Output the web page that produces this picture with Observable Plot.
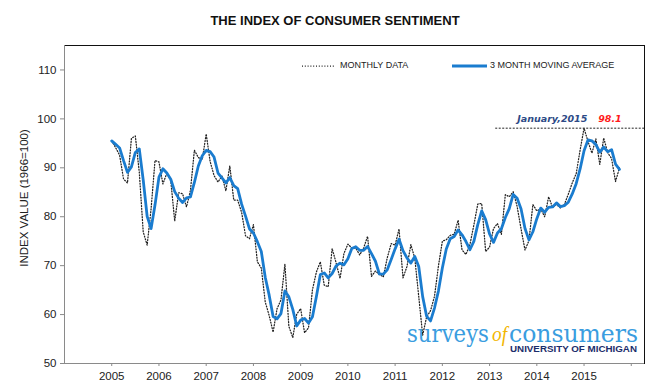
<!DOCTYPE html>
<html><head><meta charset="utf-8">
<script src="https://cdn.jsdelivr.net/npm/d3@7"></script>
<script src="https://cdn.jsdelivr.net/npm/@observablehq/plot@0.6"></script>
<style>
body{margin:0;background:#fff;font-family:"Liberation Sans",Arial,sans-serif;}
#title{height:36px;width:670px;text-align:center;font-weight:bold;font-size:13px;line-height:41px;color:#111;}
#chart svg{display:block;}
</style></head><body>
<div id="title">THE INDEX OF CONSUMER SENTIMENT</div>
<div id="chart"></div>
<script>
// Monthly Index of Consumer Sentiment (1966=100), Jan of each year first
const startYear = 2005;
const v2005 = [95.5, 94.1, 92.6, 87.7, 86.9, 96.0, 96.5, 89.1, 76.9, 74.2, 81.6, 91.5];
const v2006 = [91.2, 86.7, 88.9, 87.4, 79.1, 84.9, 84.7, 82.0, 85.4, 93.6, 92.1, 91.7];
const v2007 = [96.9, 91.3, 88.4, 87.1, 88.3, 85.3, 90.4, 83.4, 83.4, 80.9, 76.1, 75.5];
const v2008 = [78.4, 70.8, 69.5, 62.6, 59.8, 56.4, 61.2, 63.0, 70.3, 57.6, 55.3, 60.1];
const v2009 = [61.2, 56.3, 57.3, 65.1, 68.7, 70.8, 66.0, 65.7, 73.5, 70.6, 67.4, 72.5];
const v2010 = [74.4, 73.6, 73.6, 72.2, 73.6, 76.0, 67.8, 68.9, 68.2, 67.7, 71.6, 74.5];
const v2011 = [74.2, 77.5, 67.5, 69.8, 74.3, 71.5, 63.7, 55.8, 59.5, 60.8, 63.7, 69.9];
const v2012 = [75.0, 75.3, 76.2, 76.4, 79.3, 73.2, 72.3, 74.3, 78.3, 82.6, 82.7, 72.9];
const v2013 = [73.8, 77.6, 78.6, 76.4, 84.5, 84.1, 85.1, 82.1, 77.5, 73.2, 75.1, 82.5];
const v2014 = [81.2, 81.6, 80.0, 84.1, 81.9, 82.5, 81.8, 82.5, 84.6, 86.9, 88.8, 93.6];
const v2015 = [98.1, 95.4, 93.0, 95.9, 90.7, 96.1, 93.1, 91.9, 87.2, 90.0];

const yTicks = [50, 60, 70, 80, 90, 100, 110];
const xTicks = [2005, 2006, 2007, 2008, 2009, 2010, 2011, 2012, 2013, 2014, 2015, 2016];
const xTickLabels = ["2005","2006","2007","2008","2009","2010","2011","2012","2013","2014","2015",""];

const annotationLabel = "January,2015";
const annotationValue = 98.1;
const annotationFrom = 2013.13;

const seriesNames = ["MONTHLY DATA", "3 MONTH MOVING AVERAGE"];
const yLabel = "INDEX VALUE (1966=100)";

const xDomain = [2004, 2016.28];
const yDomain = [50, 115];

const data = [];
[v2005, v2006, v2007, v2008, v2009, v2010, v2011, v2012, v2013, v2014, v2015].forEach((arr, i) =>
  arr.forEach((v, m) => data.push({t: startYear + i + m / 12, v})));

const blue = "#1a7ccf";
const dots = "1,1.8";

const chart = Plot.plot({
  width: 670, height: 355,
  marginTop: 9, marginBottom: 28, marginLeft: 64, marginRight: 26,
  x: {domain: xDomain},
  y: {domain: yDomain},
  style: {fontFamily: "'Liberation Sans', Arial, sans-serif", fontSize: "11.5px", color: "#222", background: "#fff"},
  marks: [
    Plot.frame({stroke: "#111"}),
    Plot.ruleX([xDomain[0]], {stroke: "#8a8a8a"}),
    Plot.ruleY([yDomain[0]], {stroke: "#8a8a8a"}),
    Plot.axisY({ticks: yTicks, tickSize: 4, tickPadding: 4, label: null, stroke: "#8a8a8a", fill: "#222"}),
    Plot.axisX({ticks: xTicks, tickSize: 3, tickPadding: 5, label: null, stroke: "#8a8a8a", fill: "#222",
      tickFormat: d => xTickLabels[xTicks.indexOf(d)]}),
    Plot.ruleY([annotationValue], {x1: annotationFrom, x2: xDomain[1], stroke: "#222", strokeWidth: 1, strokeDasharray: "2,1.5"}),
    Plot.line(data, {x: "t", y: "v", stroke: "#222", strokeWidth: 1.25, strokeDasharray: dots}),
    Plot.line(data, Plot.windowY({k: 3, anchor: "end", reduce: "mean", strict: false},
      {x: "t", y: "v", stroke: blue, strokeWidth: 2.8})),
    Plot.text([annotationLabel], {x: 2015.07, y: annotationValue, dy: -9, text: d => d, textAnchor: "end",
      fill: "#2d4a86", fontWeight: "bold", fontStyle: "italic", fontSize: 9.5, fontFamily: "'DejaVu Sans', Verdana, sans-serif"}),
    Plot.text([annotationValue], {x: 2015.30, y: annotationValue, dy: -9, text: d => d.toFixed(1), textAnchor: "start",
      fill: "#ff1a1a", fontWeight: "bold", fontStyle: "italic", fontSize: 9.5, fontFamily: "'DejaVu Sans', Verdana, sans-serif"})
  ]
});

document.getElementById("chart").appendChild(chart);
const svg = d3.select(chart);

// y axis title
svg.append("text").attr("transform", "translate(25,162) rotate(-90)")
  .attr("text-anchor", "middle").attr("dominant-baseline", "middle")
  .attr("font-size", 11.5).attr("fill", "#222").text(yLabel);

// legend
const lg = svg.append("g").attr("font-size", 9).attr("fill", "#222").attr("text-anchor", "start");
lg.append("line").attr("x1", 302).attr("x2", 335).attr("y1", 30).attr("y2", 30)
  .attr("stroke", "#222").attr("stroke-width", 1.25).attr("stroke-dasharray", dots);
lg.append("text").attr("x", 340).attr("y", 30).attr("dominant-baseline", "middle").text(seriesNames[0]);
lg.append("line").attr("x1", 452).attr("x2", 487).attr("y1", 30).attr("y2", 30)
  .attr("stroke", blue).attr("stroke-width", 2.8);
lg.append("text").attr("x", 490).attr("y", 30).attr("dominant-baseline", "middle").text(seriesNames[1]);

// logo
const logo = svg.append("g").attr("text-anchor", "start");
logo.append("text").attr("x", 407).attr("y", 306).attr("font-family", "'DejaVu Serif', serif")
  .attr("font-size", 24).attr("fill", "#3a9de0").attr("textLength", 82).attr("lengthAdjust", "spacingAndGlyphs").text("surveys");
logo.append("text").attr("x", 492).attr("y", 305).attr("font-family", "'Liberation Serif', serif").attr("font-style", "italic")
  .attr("font-size", 22).attr("fill", "#f2b600").attr("textLength", 15).attr("lengthAdjust", "spacingAndGlyphs").text("of");
logo.append("text").attr("x", 509).attr("y", 306).attr("font-family", "'DejaVu Serif', serif")
  .attr("font-size", 24).attr("fill", "#3a9de0").attr("textLength", 129).attr("lengthAdjust", "spacingAndGlyphs").text("consumers");
logo.append("text").attr("x", 510).attr("y", 316).attr("font-family", "'Liberation Sans', Arial, sans-serif").attr("font-weight", "bold")
  .attr("font-size", 8.5).attr("fill", "#1b2d6b").attr("textLength", 127).attr("lengthAdjust", "spacingAndGlyphs").text("UNIVERSITY OF MICHIGAN");
</script>
</body></html>
